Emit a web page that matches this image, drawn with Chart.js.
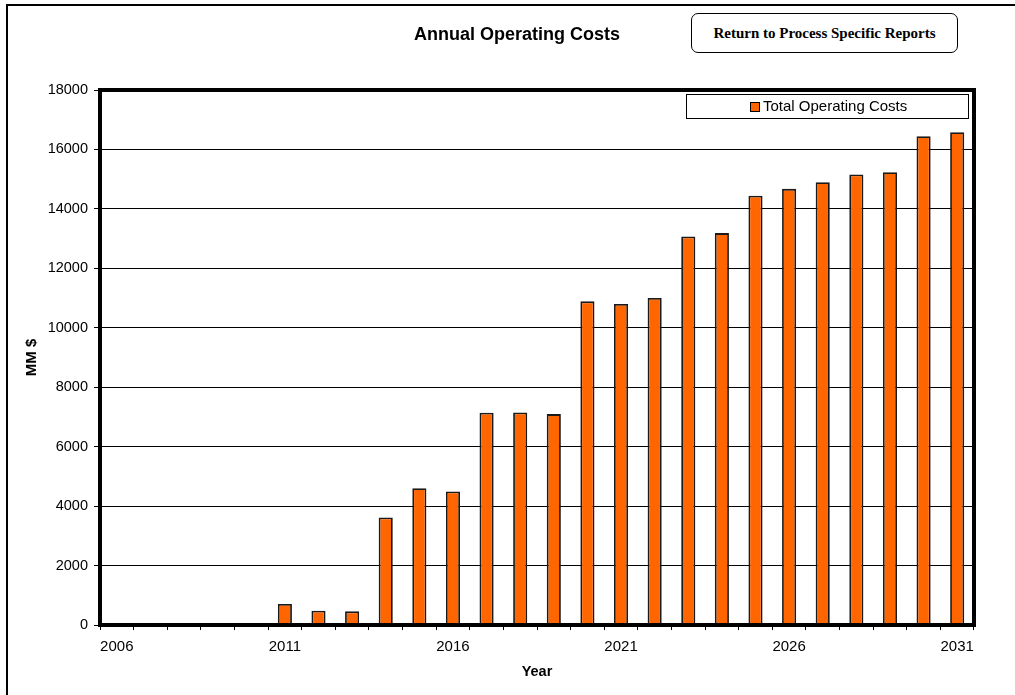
<!DOCTYPE html>
<html>
<head>
<meta charset="utf-8">
<title>Annual Operating Costs</title>
<script src="https://cdn.jsdelivr.net/npm/chart.js"></script>
<style>
  body { margin: 0; background: #fff; overflow: hidden; }
  #wrap { position: relative; width: 1015px; height: 695px; overflow: hidden; }
  #back {
    position: absolute; left: 691px; top: 13px; width: 265px; height: 38px;
    border: 1px solid #000; border-radius: 7px; background: #fff;
    font: bold 15px "Liberation Serif", "Times New Roman", serif;
    display: flex; align-items: center; justify-content: center; cursor: pointer;
  }
  canvas { position: absolute; left: 0; top: 0; }
</style>
</head>
<body>
<div id="wrap">
  <canvas id="costs-chart" width="1015" height="695"></canvas>
  <div id="back">Return to Process Specific Reports</div>
</div>
<script>
const years = ["2006", "2007", "2008", "2009", "2010", "2011", "2012", "2013", "2014", "2015",
  "2016", "2017", "2018", "2019", "2020", "2021", "2022", "2023", "2024", "2025",
  "2026", "2027", "2028", "2029", "2030", "2031"];
const totalOperatingCosts = [0, 0, 0, 0, 0, 705, 480, 460, 3620, 4600,
  4490, 7140, 7150, 7095, 10890, 10800, 11000, 13070, 13185, 14440,
  14675, 14900, 15155, 15235, 16445, 16580];
const xTickLabels = ["2006", "2011", "2016", "2021", "2026", "2031"];
const yMax = 18000;
const yStep = 2000;

const font = '"Liberation Sans", Arial, sans-serif';

// page frame, thick plot border, chart title and the boxed legend
const plotFrame = {
  id: "plotFrame",
  afterDraw(chart) {
    const { ctx, chartArea: a } = chart;
    ctx.save();
    ctx.strokeStyle = "#000";
    ctx.lineWidth = 2;
    ctx.beginPath();
    ctx.moveTo(7, chart.height);
    ctx.lineTo(7, 5);
    ctx.lineTo(chart.width, 5);
    ctx.stroke();

    ctx.lineWidth = 4;
    ctx.strokeRect(a.left, a.top, a.right - a.left, a.bottom - a.top);

    ctx.fillStyle = "#000";
    ctx.font = "bold 18px " + font;
    ctx.textAlign = "center";
    ctx.textBaseline = "middle";
    ctx.fillText("Annual Operating Costs", 517, 35);

    const ds = chart.data.datasets[0];
    const bx = 686, by = 94, bw = 282, bh = 24;
    ctx.fillStyle = "#fff";
    ctx.fillRect(bx, by, bw, bh);
    ctx.lineWidth = 1;
    ctx.strokeRect(bx + 0.5, by + 0.5, bw, bh);
    ctx.font = "15px " + font;
    const tw = ctx.measureText(ds.label).width;
    const sx = Math.round(bx + bw / 2 - (10 + 3 + tw) / 2) + 2;
    const cy = by + bh / 2 + 1;
    ctx.fillStyle = ds.backgroundColor;
    ctx.fillRect(sx, cy - 5, 10, 10);
    ctx.strokeRect(sx + 0.5, cy - 4.5, 9, 9);
    ctx.fillStyle = "#000";
    ctx.textAlign = "left";
    ctx.fillText(ds.label, sx + 13, cy);
    ctx.restore();
  }
};

new Chart(document.getElementById("costs-chart"), {
  type: "bar",
  data: {
    labels: years,
    datasets: [{
      label: "Total Operating Costs",
      data: totalOperatingCosts,
      backgroundColor: "#FF6600",
      borderColor: "#1a1a1a",
      borderWidth: 1.8,
      barPercentage: 0.42,
      categoryPercentage: 1.0
    }]
  },
  options: {
    responsive: false,
    animation: false,
    layout: { padding: { top: 90, right: 41, left: 0, bottom: 0 } },
    plugins: {
      legend: { display: false },
      tooltip: { enabled: false }
    },
    scales: {
      x: {
        offset: true,
        afterFit: (scale) => { scale.height = 70; },
        grid: { offset: true, drawOnChartArea: false, color: "#000", tickLength: 5 },
        border: { display: false },
        ticks: {
          autoSkip: false,
          maxRotation: 0,
          padding: 8,
          color: "#000",
          font: { family: font, size: 15 },
          callback: (v, i) => xTickLabels.includes(years[i]) ? years[i] : ""
        },
        title: {
          display: true, text: "Year", color: "#000",
          font: { family: font, size: 14.5, weight: "bold" },
          padding: { top: 0, bottom: 14 }
        }
      },
      y: {
        min: 0,
        max: yMax,
        afterFit: (scale) => { scale.width = 100; },
        grid: { color: "#000", lineWidth: 1, tickLength: 6 },
        border: { display: false },
        ticks: {
          stepSize: yStep,
          padding: 6,
          color: "#000",
          font: { family: font, size: 14.5 },
          callback: (v) => String(v)
        },
        title: {
          display: true, text: "MM $", color: "#000",
          font: { family: font, size: 15, weight: "bold" },
          padding: { top: 23, bottom: 0 }
        }
      }
    }
  },
  plugins: [plotFrame]
});
</script>
</body>
</html>
